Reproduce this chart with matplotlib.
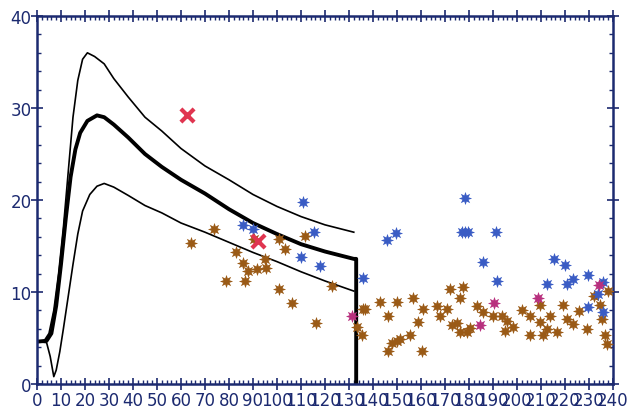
import numpy as np
import matplotlib
matplotlib.use("Agg")
import matplotlib.pyplot as plt
from matplotlib.ticker import MultipleLocator

# curves (x, y)
upper_x = [0, 3, 5, 7, 9, 11, 13, 15, 17, 19, 21, 24, 28, 32, 38, 45, 52, 60, 70, 80, 90, 100, 110, 120, 132]
upper_y = [4.6, 4.7, 5.5, 8, 12, 17, 23, 29, 33, 35.3, 36, 35.6, 34.8, 33.2, 31.2, 29, 27.5, 25.6, 23.7, 22.2, 20.6, 19.3, 18.2, 17.3, 16.5]

mid_x = [0, 4, 6, 8, 10, 12, 14, 16, 18, 21, 25, 28, 32, 38, 45, 52, 60, 70, 80, 90, 100, 110, 120, 132, 133, 133]
mid_y = [4.6, 4.7, 5.5, 8.5, 13, 18, 22.5, 25.5, 27.3, 28.6, 29.2, 29.0, 28.2, 26.8, 25, 23.6, 22.2, 20.7, 19, 17.5, 16.3, 15.2, 14.4, 13.6, 13.6, 0]

lower_x = [0, 4, 5.5, 7, 8, 9.5, 11, 13, 15, 17, 19, 22, 25, 28, 32, 38, 45, 52, 60, 70, 80, 90, 100, 110, 120, 132]
lower_y = [4.6, 4.5, 3, 0.8, 1.5, 3.5, 6, 9.5, 13, 16.3, 18.8, 20.6, 21.5, 21.8, 21.4, 20.5, 19.4, 18.6, 17.5, 16.5, 15.4, 14.3, 13.3, 12.2, 11.2, 10.1]

# scatter points
brown_x = [64, 73.75, 90.4, 101, 111.7, 103.3, 95, 82.9, 86, 88, 91.5, 95.4, 78.75, 86.7, 101, 122.8,
           106.1, 116.25, 136.7, 142.9, 149.9, 156.5, 146.25, 158.9, 161, 166.5, 172.1, 177.6, 170.7,
           176.25, 183.2, 174.9, 179, 149.9, 146.25, 160.3, 155.4, 133.2, 135.3, 168, 136, 147.8, 151.25,
           172.8, 176.25, 180.4, 190.1, 193.6, 198.5, 205.4, 209.6, 212.4, 213.75, 219.3, 220.7, 223.5,
           229, 216.5, 205.4, 211, 209.6, 234.6, 235.3, 236.7, 237.4, 238, 186, 196, 202, 226, 232, 195]
brown_y = [15.3, 16.8, 15.8, 15.8, 16.1, 14.7, 13.6, 14.4, 13.2, 12.3, 12.5, 12.6, 11.2, 11.2, 10.3, 10.7,
           8.8, 6.6, 8.1, 8.9, 8.9, 9.3, 7.4, 6.7, 8.2, 8.5, 10.3, 10.5, 8.2,
           9.3, 8.5, 6.6, 5.6, 4.7, 3.6, 3.6, 5.3, 6.2, 5.3, 7.4, 8.2, 4.5, 4.9,
           6.4, 5.7, 6.1, 7.4, 7.4, 6.2, 7.4, 6.7, 6.0, 7.4, 8.6, 7.1, 6.5,
           6.0, 5.6, 5.3, 5.3, 8.6, 8.6, 7.1, 5.3, 4.4, 10.1, 7.8, 6.8, 8.0, 7.9, 9.6, 5.8]

blue_x = [110.7, 86, 90, 115.4, 109.9, 117.9, 136, 145.7, 149.6, 178.3, 185.7, 178.3, 177, 179.7,
          191.25, 191.8, 215.4, 220.1, 212.6, 220.7, 223.5, 229.7, 236, 233.9, 229.7, 236]
blue_y = [19.8, 17.3, 16.8, 16.5, 13.8, 12.8, 11.5, 15.7, 16.4, 16.5, 13.3, 20.2, 16.5, 16.5,
          16.5, 11.2, 13.6, 12.9, 10.9, 10.9, 11.4, 11.8, 11.1, 9.8, 8.4, 7.8]

magenta_x = [190.4, 208.9, 234.3, 184.5, 131.1]
magenta_y = [8.8, 9.4, 10.8, 6.4, 7.4]

red_x = [62.6, 92.2]
red_y = [29.2, 15.5]

navy = "#1c2a70"
fig = plt.figure(figsize=(6.41, 4.10), dpi=100)
ax = fig.add_axes([0.0577, 0.061, 0.8986, 0.8975])

ax.plot(upper_x, upper_y, color="black", lw=1.2)
ax.plot(lower_x, lower_y, color="black", lw=1.2)
ax.plot(mid_x, mid_y, color="black", lw=2.8)

star = (8, 1, 0)
ax.scatter(brown_x, brown_y, marker=star, s=90, color="#9a5a16", zorder=3, linewidths=0)
ax.scatter(blue_x, blue_y, marker=star, s=90, color="#3a5cc4", zorder=3, linewidths=0)
ax.scatter(magenta_x, magenta_y, marker=star, s=90, color="#b8307e", zorder=3, linewidths=0)
ax.scatter(red_x, red_y, marker="x", s=90, color="#e03550", zorder=4, linewidths=3)

ax.set_xlim(0, 240)
ax.set_ylim(0, 40)
ax.xaxis.set_major_locator(MultipleLocator(10))
ax.xaxis.set_minor_locator(MultipleLocator(2))
ax.yaxis.set_major_locator(MultipleLocator(10))
ax.yaxis.set_minor_locator(MultipleLocator(2))
ax.tick_params(which="major", direction="inout", length=8, width=1.2, color=navy,
               labelcolor=navy, labelsize=12, top=True, right=True, pad=1)
ax.tick_params(which="minor", direction="in", length=3, width=1, color=navy, top=True, right=True)
ax.tick_params(axis="y", pad=0)
for s in ax.spines.values():
    s.set_color(navy)
    s.set_linewidth(1.8)

fig.savefig("out.png", dpi=100)
